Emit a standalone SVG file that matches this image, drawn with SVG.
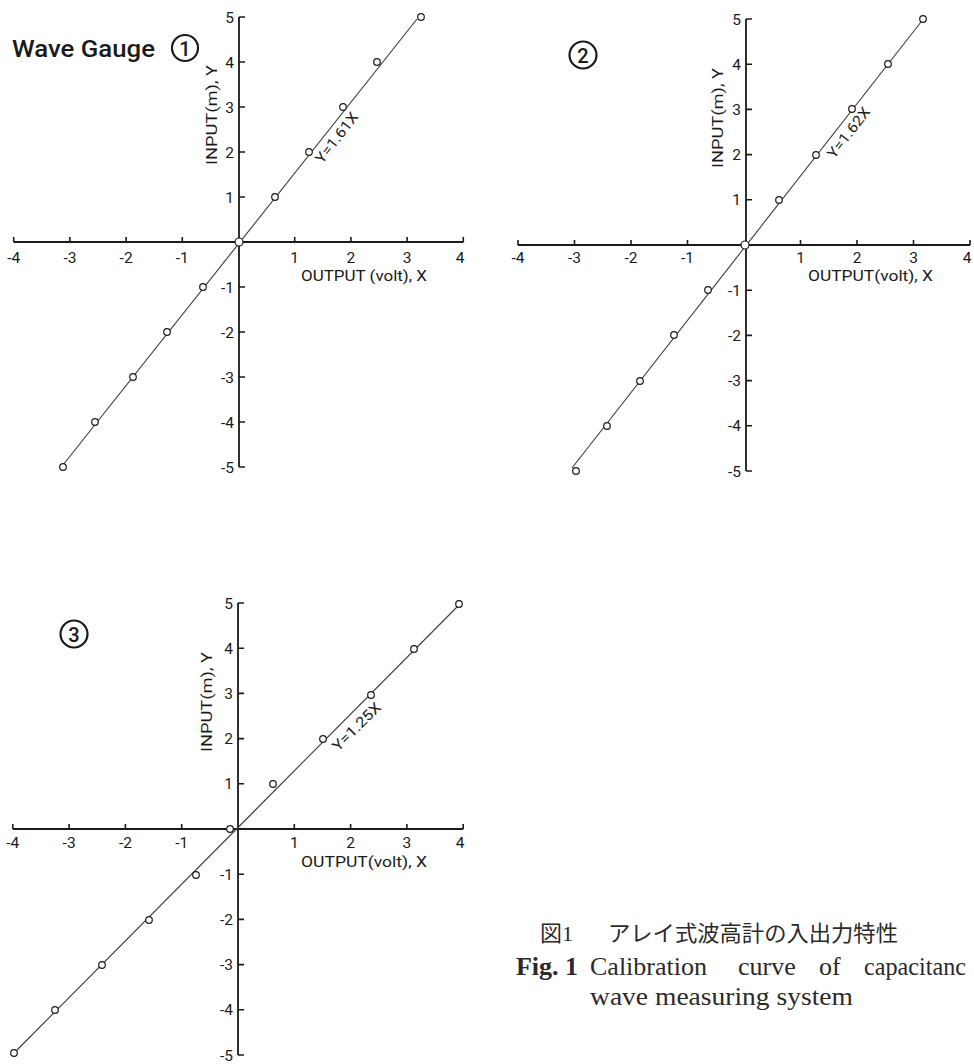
<svg xmlns="http://www.w3.org/2000/svg" width="974" height="1064" viewBox="0 0 974 1064">
<style>
.axis{stroke:#1a1a1a;stroke-width:1.8;fill:none}
.tick{stroke:#1a1a1a;stroke-width:1.6;fill:none}
.fit{stroke:#3a3a3a;stroke-width:1.1;fill:none}
.pt{fill:#fff;stroke:#1a1a1a;stroke-width:1.2}
.num{font-family:Roboto,"DejaVu Sans",sans-serif;font-size:15.5px;fill:#1a1a1a}
.xl{text-anchor:middle}
.yl{text-anchor:end}
.lab{font-family:Roboto,"DejaVu Sans",sans-serif;font-size:14.5px;fill:#1a1a1a}
.eq{font-family:Roboto,"DejaVu Sans",sans-serif;font-size:14.5px;fill:#1a1a1a;text-anchor:middle;dominant-baseline:central}
.circ{fill:none;stroke:#1a1a1a;stroke-width:2.2}
.cnum{font-family:Roboto,"DejaVu Sans",sans-serif;font-size:20px;font-weight:500;fill:#1a1a1a;text-anchor:middle;dominant-baseline:central}
.cap{font-family:"Liberation Serif","Noto Sans CJK JP",serif;fill:#2a2a2a}
</style>

<g id="panel1">
  <text x="12" y="57" font-family="Roboto,'DejaVu Sans',sans-serif" font-size="23.5" font-weight="500" fill="#1a1a1a" textLength="143" lengthAdjust="spacingAndGlyphs">Wave Gauge</text>
  <circle class="circ" cx="185" cy="48" r="13"/>
  <text class="cnum" x="185" y="49">1</text>
  <path class="axis" d="M13.7,242 H463.3 M239,17 V467"/>
  <path class="tick" d="M13.7,242 v-5 M69.9,242 v-5 M126.1,242 v-5 M182.3,242 v-5 M294.7,242 v-5 M350.9,242 v-5 M407.1,242 v-5 M463.3,242 v-5
    M239,17 h6 M239,62 h6 M239,107 h6 M239,152 h6 M239,197 h6 M239,287 h6 M239,332 h6 M239,377 h6 M239,422 h6 M239,467 h6"/>
  <g class="num xl">
    <text x="13.7" y="263">-4</text><text x="69.9" y="263">-3</text><text x="126.1" y="263">-2</text><text x="182.3" y="263">-1</text>
    <text x="294.7" y="263">1</text><text x="350.9" y="263">2</text><text x="407.1" y="263">3</text><text x="460" y="263">4</text>
  </g>
  <g class="num yl">
    <text x="234" y="22.5">5</text><text x="234" y="67.5">4</text><text x="234" y="112.5">3</text><text x="234" y="157.5">2</text><text x="234" y="202.5">1</text>
    <text x="234" y="292.5">-1</text><text x="234" y="337.5">-2</text><text x="234" y="382.5">-3</text><text x="234" y="427.5">-4</text><text x="234" y="472.5">-5</text>
  </g>
  <text class="lab" x="0" y="0" transform="translate(212,115) rotate(-90)" text-anchor="middle" dominant-baseline="central" textLength="100" lengthAdjust="spacingAndGlyphs">INPUT(m), Y</text>
  <text class="lab" x="301" y="281" textLength="126" lengthAdjust="spacingAndGlyphs">OUTPUT (volt), X</text>
  <text class="eq" x="0" y="0" transform="translate(337,138) rotate(-52.3)" textLength="60" lengthAdjust="spacingAndGlyphs">Y=1.61X</text>
  <line class="fit" x1="63" y1="465" x2="417" y2="19"/>
  <g class="pts">
    <circle class="pt" cx="421" cy="17" r="3.3"/><circle class="pt" cx="377" cy="62" r="3.3"/><circle class="pt" cx="343" cy="107" r="3.3"/>
    <circle class="pt" cx="309" cy="152" r="3.3"/><circle class="pt" cx="275" cy="197" r="3.3"/><circle class="pt" cx="239" cy="242" r="4"/>
    <circle class="pt" cx="203" cy="287" r="3.3"/><circle class="pt" cx="167" cy="332" r="3.3"/><circle class="pt" cx="133" cy="377" r="3.3"/>
    <circle class="pt" cx="95" cy="422" r="3.3"/><circle class="pt" cx="63" cy="467" r="3.3"/>
  </g>
</g>

<g id="panel2">
  <circle class="circ" cx="583" cy="55" r="13.5"/>
  <text class="cnum" x="583" y="56">2</text>
  <path class="axis" d="M518,245 H970 M746,19 V471"/>
  <path class="tick" d="M518,245 v-5 M574.5,245 v-5 M631,245 v-5 M687.5,245 v-5 M800.5,245 v-5 M857,245 v-5 M913.5,245 v-5 M970,245 v-5
    M746,19 h6 M746,64.2 h6 M746,109.4 h6 M746,154.6 h6 M746,199.8 h6 M746,290.2 h6 M746,335.4 h6 M746,380.6 h6 M746,425.8 h6 M746,471 h6"/>
  <g class="num xl">
    <text x="518" y="263">-4</text><text x="574.5" y="263">-3</text><text x="631" y="263">-2</text><text x="687.5" y="263">-1</text>
    <text x="800.5" y="263">1</text><text x="857" y="263">2</text><text x="913.5" y="263">3</text><text x="967" y="263">4</text>
  </g>
  <g class="num yl">
    <text x="741" y="24.5">5</text><text x="741" y="69.7">4</text><text x="741" y="114.9">3</text><text x="741" y="160.1">2</text><text x="741" y="205.3">1</text>
    <text x="741" y="295.7">-1</text><text x="741" y="340.9">-2</text><text x="741" y="386.1">-3</text><text x="741" y="431.3">-4</text><text x="741" y="476.5">-5</text>
  </g>
  <text class="lab" x="0" y="0" transform="translate(718,118) rotate(-90)" text-anchor="middle" dominant-baseline="central" textLength="100" lengthAdjust="spacingAndGlyphs">INPUT(m), Y</text>
  <text class="lab" x="808" y="281" textLength="125" lengthAdjust="spacingAndGlyphs">OUTPUT(volt), X</text>
  <text class="eq" x="0" y="0" transform="translate(849,133) rotate(-52.3)" textLength="60" lengthAdjust="spacingAndGlyphs">Y=1.62X</text>
  <line class="fit" x1="572" y1="468" x2="921" y2="22"/>
  <g class="pts">
    <circle class="pt" cx="923" cy="19" r="3.3"/><circle class="pt" cx="888" cy="64" r="3.3"/><circle class="pt" cx="852" cy="109" r="3.3"/>
    <circle class="pt" cx="816" cy="155" r="3.3"/><circle class="pt" cx="779" cy="200" r="3.3"/><circle class="pt" cx="745" cy="245" r="4"/>
    <circle class="pt" cx="708" cy="290" r="3.3"/><circle class="pt" cx="674" cy="335" r="3.3"/><circle class="pt" cx="640" cy="381" r="3.3"/>
    <circle class="pt" cx="607" cy="426" r="3.3"/><circle class="pt" cx="576" cy="471" r="3.3"/>
  </g>
</g>

<g id="panel3">
  <circle class="circ" cx="74" cy="634" r="13.5"/>
  <text class="cnum" x="74" y="635">3</text>
  <path class="axis" d="M12.8,829 H463.2 M238,603 V1055"/>
  <path class="tick" d="M12.8,829 v-5 M69.1,829 v-5 M125.4,829 v-5 M181.7,829 v-5 M294.3,829 v-5 M350.6,829 v-5 M406.9,829 v-5 M463.2,829 v-5
    M238,603 h6 M238,648.2 h6 M238,693.4 h6 M238,738.6 h6 M238,783.8 h6 M238,874.2 h6 M238,919.4 h6 M238,964.6 h6 M238,1009.8 h6 M238,1055 h6"/>
  <g class="num xl">
    <text x="12.8" y="848">-4</text><text x="69.1" y="848">-3</text><text x="125.4" y="848">-2</text><text x="181.7" y="848">-1</text>
    <text x="294.3" y="848">1</text><text x="350.6" y="848">2</text><text x="406.9" y="848">3</text><text x="460" y="848">4</text>
  </g>
  <g class="num yl">
    <text x="233" y="608.5">5</text><text x="233" y="653.7">4</text><text x="233" y="698.9">3</text><text x="233" y="744.1">2</text><text x="233" y="789.3">1</text>
    <text x="233" y="879.7">-1</text><text x="233" y="924.9">-2</text><text x="233" y="970.1">-3</text><text x="233" y="1015.3">-4</text><text x="233" y="1060.5">-5</text>
  </g>
  <text class="lab" x="0" y="0" transform="translate(207,702) rotate(-90)" text-anchor="middle" dominant-baseline="central" textLength="100" lengthAdjust="spacingAndGlyphs">INPUT(m), Y</text>
  <text class="lab" x="301" y="867" textLength="126" lengthAdjust="spacingAndGlyphs">OUTPUT(volt), X</text>
  <text class="eq" x="0" y="0" transform="translate(357,727) rotate(-45)" textLength="62" lengthAdjust="spacingAndGlyphs">Y=1.25X</text>
  <line class="fit" x1="17" y1="1050" x2="457" y2="607"/>
  <g class="pts">
    <circle class="pt" cx="459" cy="604" r="3.3"/><circle class="pt" cx="414" cy="649" r="3.3"/><circle class="pt" cx="371" cy="695" r="3.3"/>
    <circle class="pt" cx="323" cy="739" r="3.3"/><circle class="pt" cx="273" cy="784" r="3.3"/><circle class="pt" cx="230" cy="829" r="3.3"/>
    <circle class="pt" cx="196" cy="875" r="3.3"/><circle class="pt" cx="149" cy="920" r="3.3"/><circle class="pt" cx="102" cy="965" r="3.3"/>
    <circle class="pt" cx="55" cy="1010" r="3.3"/><circle class="pt" cx="14" cy="1053" r="3.3"/>
  </g>
</g>

<g id="caption">
  <text class="cap" x="540" y="941" font-size="22">図1</text>
  <text class="cap" x="608" y="941" font-size="22" textLength="290" lengthAdjust="spacingAndGlyphs">アレイ式波高計の入出力特性</text>
  <text class="cap" x="578" y="975" font-size="26" font-weight="bold" text-anchor="end">Fig. 1</text>
  <text class="cap" x="590" y="975" font-size="26">Calibration</text>
  <text class="cap" x="738" y="975" font-size="26">curve</text>
  <text class="cap" x="819" y="975" font-size="26">of</text>
  <text class="cap" x="864" y="975" font-size="26" textLength="102" lengthAdjust="spacingAndGlyphs">capacitanc</text>
  <text class="cap" x="590" y="1005" font-size="26" textLength="263" lengthAdjust="spacingAndGlyphs">wave measuring system</text>
</g>
</svg>
